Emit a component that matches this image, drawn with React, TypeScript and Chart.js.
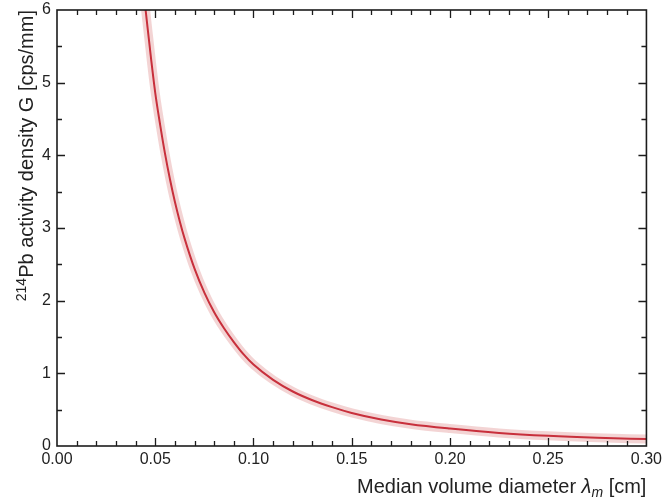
import React, { useEffect, useRef } from "react";
import { Chart, registerables } from "chart.js";

Chart.register(...registerables);

// Median volume diameter λm [cm]
const lambdaCm = [0.0451, 0.048, 0.05, 0.0525, 0.055, 0.0575, 0.06, 0.0625, 0.065, 0.07, 0.075, 0.08, 0.085, 0.09, 0.095, 0.1, 0.11, 0.12, 0.13, 0.14, 0.15, 0.165, 0.18, 0.2, 0.225, 0.25, 0.275, 0.3];
// 214Pb activity density G [cps/mm]
const activity = [6.0, 5.3, 4.86, 4.42, 4.02, 3.67, 3.36, 3.09, 2.85, 2.44, 2.11, 1.84, 1.62, 1.43, 1.26, 1.12, 0.91, 0.75, 0.63, 0.535, 0.455, 0.365, 0.3, 0.24, 0.18, 0.14, 0.113, 0.095];

const xTickValues = [0, 0.05, 0.1, 0.15, 0.2, 0.25, 0.3];
const xTickLabels = ["0.00", "0.05", "0.10", "0.15", "0.20", "0.25", "0.30"];
const yTickValues = [0, 1, 2, 3, 4, 5, 6];
const yTickLabels = ["0", "1", "2", "3", "4", "5", "6"];

const FONT = "'Liberation Sans', Arial, Helvetica, sans-serif";

const framePlugin = {
  id: "frameAndTitles",
  afterDatasetsDraw(chart: any) {
    const { ctx, chartArea, scales } = chart;
    const { left, right, top, bottom } = chartArea;
    const x = scales.x;
    const y = scales.y;
    ctx.save();
    ctx.strokeStyle = "#1c1c1c";
    ctx.lineWidth = 1.6;
    ctx.strokeRect(left, top, right - left, bottom - top);
    ctx.lineWidth = 1.3;
    ctx.beginPath();
    for (let i = 1; i < 30; i++) {
      const px = Math.round(x.getPixelForValue(i / 100)) + 0.5;
      const len = i % 5 === 0 ? 8 : 5;
      ctx.moveTo(px, bottom);
      ctx.lineTo(px, bottom - len);
      ctx.moveTo(px, top);
      ctx.lineTo(px, top + len);
    }
    for (let j = 1; j < 12; j++) {
      const py = Math.round(y.getPixelForValue(j / 2)) + 0.5;
      const len = j % 2 === 0 ? 8 : 5;
      ctx.moveTo(left, py);
      ctx.lineTo(left + len, py);
      ctx.moveTo(right, py);
      ctx.lineTo(right - len, py);
    }
    ctx.stroke();

    ctx.fillStyle = "#222";
    ctx.textBaseline = "alphabetic";
    ctx.textAlign = "left";
    const fs = 20;
    const normal = `${fs}px ${FONT}`;
    const ital = `italic ${fs}px ${FONT}`;
    const sub = `italic ${Math.round(fs * 0.72)}px ${FONT}`;
    const parts: [string, string, number][] = [
      ["Median volume diameter ", normal, 0],
      ["λ", ital, 0],
      ["m", sub, 4],
      [" [cm]", normal, 0],
    ];
    let total = 0;
    for (const p of parts) {
      ctx.font = p[1];
      total += ctx.measureText(p[0]).width;
    }
    let cx = right - total;
    const baseY = 493;
    for (const p of parts) {
      ctx.font = p[1];
      ctx.fillText(p[0], cx, baseY + p[2]);
      cx += ctx.measureText(p[0]).width;
    }

    const yparts: [string, string, number][] = [
      ["214", `${Math.round(fs * 0.72)}px ${FONT}`, -7],
      ["Pb activity density G [cps/mm]", normal, 0],
    ];
    let ytotal = 0;
    for (const p of yparts) {
      ctx.font = p[1];
      ytotal += ctx.measureText(p[0]).width;
    }
    ctx.translate(33, top);
    ctx.rotate(-Math.PI / 2);
    let tx = -ytotal;
    for (const p of yparts) {
      ctx.font = p[1];
      ctx.fillText(p[0], tx, p[2]);
      tx += ctx.measureText(p[0]).width;
    }
    ctx.restore();
  },
};

export default function App() {
  const canvasRef = useRef<HTMLCanvasElement | null>(null);

  useEffect(() => {
    if (!canvasRef.current) return;
    const points = lambdaCm.map((v, i) => ({ x: v, y: activity[i] }));
    const chart = new Chart(canvasRef.current, {
      type: "line",
      data: {
        datasets: [
          {
            label: "G",
            data: points,
            borderColor: "#c8303c",
            borderWidth: 2,
            pointRadius: 0,
            cubicInterpolationMode: "monotone",
            fill: false,
            order: 0,
            clip: 0,
          },
          {
            label: "band",
            data: points,
            borderColor: "rgba(234, 176, 176, 0.55)",
            borderWidth: 9,
            pointRadius: 0,
            cubicInterpolationMode: "monotone",
            fill: false,
            order: 1,
            clip: 0,
          },
        ],
      },
      options: {
        animation: false,
        responsive: true,
        maintainAspectRatio: false,
        layout: { padding: { top: 10, right: 19, left: 0, bottom: 0 } },
        plugins: {
          legend: { display: false },
          tooltip: { enabled: false },
          title: { display: false },
        },
        scales: {
          x: {
            type: "linear",
            min: 0,
            max: 0.3,
            afterBuildTicks: (axis: any) => {
              axis.ticks = xTickValues.map((v) => ({ value: v }));
            },
            afterFit: (axis: any) => {
              axis.height = 57;
            },
            grid: { display: false, drawTicks: false },
            border: { display: false },
            ticks: {
              color: "#222",
              font: { family: FONT, size: 16 },
              padding: 4,
              maxRotation: 0,
              autoSkip: false,
              callback: (value: any) => {
                const idx = xTickValues.findIndex((v) => Math.abs(v - Number(value)) < 1e-9);
                return idx >= 0 ? xTickLabels[idx] : "";
              },
            },
          },
          y: {
            type: "linear",
            min: 0,
            max: 6,
            afterBuildTicks: (axis: any) => {
              axis.ticks = yTickValues.map((v) => ({ value: v }));
            },
            afterFit: (axis: any) => {
              axis.width = 57;
            },
            grid: { display: false, drawTicks: false },
            border: { display: false },
            ticks: {
              color: "#222",
              font: { family: FONT, size: 16, lineHeight: 0.5 },
              padding: 6,
              autoSkip: false,
              callback: (value: any) => {
                const idx = yTickValues.findIndex((v) => Math.abs(v - Number(value)) < 1e-9);
                return idx >= 0 ? yTickLabels[idx] : "";
              },
            },
          },
        },
      },
      plugins: [framePlugin],
    });
    return () => chart.destroy();
  }, []);

  return (
    <div style={{ position: "absolute", left: 0, top: 0, width: 666, height: 503, background: "#fff" }}>
      <canvas ref={canvasRef} />
    </div>
  );
}
